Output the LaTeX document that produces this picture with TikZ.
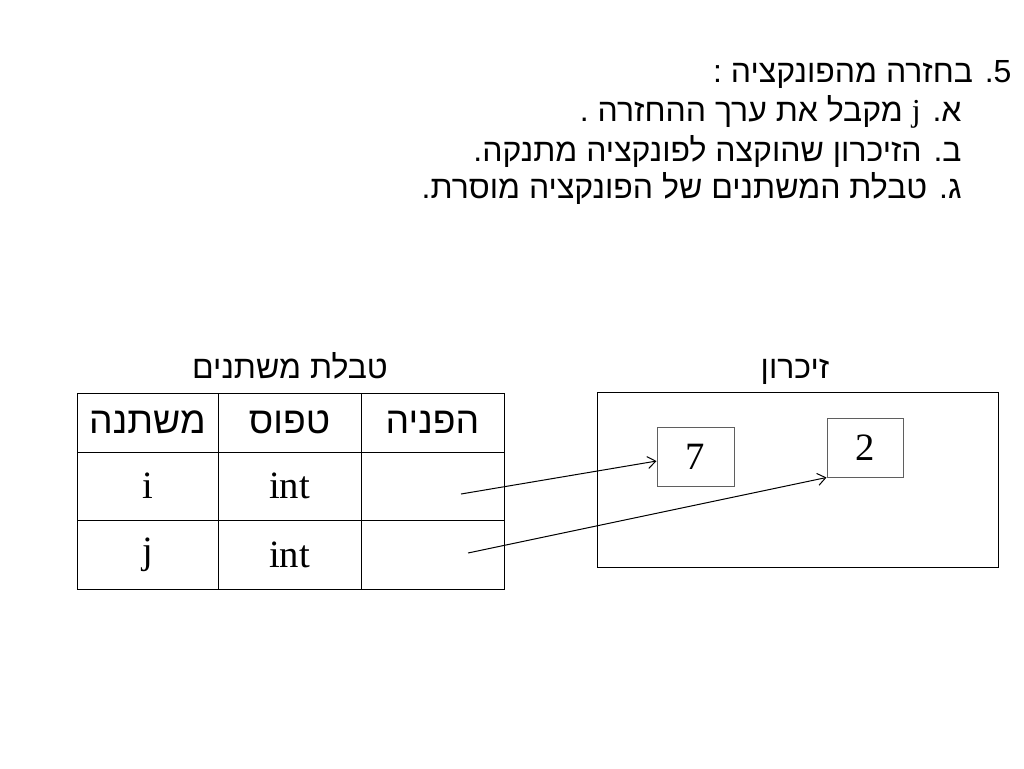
\documentclass[tikz,border=0pt]{standalone}
\usepackage{fontspec}
\usetikzlibrary{arrows.meta}
\TeXXeTstate=1
\newfontfamily\hebfont[Script=Hebrew]{Liberation Sans}
\newfontfamily\timesfont{Liberation Serif}
\definecolor{boxgray}{RGB}{95,95,95}
\newcommand{\heb}[1]{\hebfont\beginR #1\endR}
\tikzset{
  cell/.style={draw, inner sep=0pt, minimum height=#1},
  cola/.style={minimum width=105.75pt},
  colb/.style={minimum width=107.25pt},
  hebtext/.style={font=\hebfont\fontsize{24pt}{28pt}\selectfont},
  headtext/.style={font=\hebfont\fontsize{28pt}{32pt}\selectfont},
  sertext/.style={font=\timesfont\fontsize{29pt}{33pt}\selectfont},
  membox/.style={draw=boxgray, inner sep=0pt, minimum height=44.25pt},
  link/.style={-{Straight Barb[length=6pt,width=9pt]}}
}
\begin{document}
\begin{tikzpicture}[x=0.75pt,y=-0.75pt,line width=0.75pt]
        \useasboundingbox (0,0) rectangle (1024,768);

        % text lines
        \node[hebtext, anchor=base east, inner sep=0pt] (line1) at (1012,82) {\heb{5. בחזרה מהפונקציה :}};
        \node[hebtext, anchor=base east, inner sep=0pt] (line2) at (962,121) {\heb{א. {\timesfont j} מקבל את ערך ההחזרה .}};
        \node[hebtext, anchor=base east, inner sep=0pt] (line3) at (962,161) {\heb{ב. הזיכרון שהוקצה לפונקציה מתנקה.}};
        \node[hebtext, anchor=base east, inner sep=0pt] (line4) at (962,198) {\heb{ג. טבלת המשתנים של הפונקציה מוסרת.}};

        % table of variables
        \node[hebtext, anchor=base] (ttitle) at (290,378) {\heb{טבלת משתנים}};
        \node[cell=44.25pt, cola, headtext] (var-h) at (147.5,422.5) {\heb{משתנה}};
        \node[cell=44.25pt, colb, headtext] (type-h) at (289.5,422.5) {\heb{טפוס}};
        \node[cell=44.25pt, colb, headtext] (ref-h) at (432.5,422.5) {\heb{הפניה}};
        \node[cell=51pt, cola, sertext] (var-i) at (147.5,486) {i};
        \node[cell=51pt, colb, sertext] (type-i) at (289.5,486) {int};
        \node[cell=51pt, colb] (ref-i) at (432.5,486) {};
        \node[cell=51.75pt, cola, sertext] (var-j) at (147.5,554.5) {j};
        \node[cell=51.75pt, colb, sertext] (type-j) at (289.5,554.5) {int};
        \node[cell=51.75pt, colb] (ref-j) at (432.5,554.5) {};

        % memory
        \node[hebtext, anchor=base] (mtitle) at (795,378) {\heb{זיכרון}};
        \node[draw, inner sep=0pt, minimum width=300.75pt, minimum height=131.25pt] (mem) at (797.5,479.5) {};
        \node[membox, minimum width=57.75pt, sertext] (val7) at (695.5,456.5) {7};
        \node[membox, minimum width=57pt, sertext] (val2) at (865,447.5) {2};

        \coordinate (pi) at (461,494);
        \coordinate (pj) at (468,553);
        \path[draw,link] (pi) -- ([yshift=-3.4pt]val7.west);
        \path[draw,link] (pj) -- (val2.south west);
\end{tikzpicture}
\end{document}
